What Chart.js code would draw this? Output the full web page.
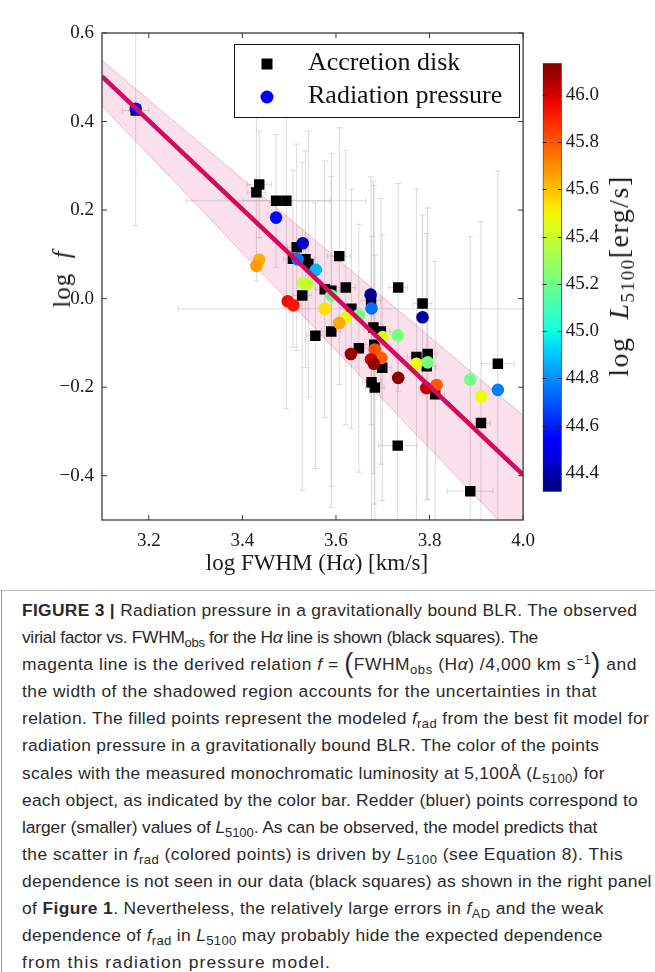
<!DOCTYPE html>
<html>
<head>
<meta charset="utf-8">
<script src="https://cdn.jsdelivr.net/npm/chart.js@4"></script>
<style>
  body { margin: 0; background: #fff; }
  #page { position: relative; width: 655px; height: 972px; overflow: hidden; }
  .lbl { position: absolute; font-family: "Liberation Serif", serif; color: #1a1a1a; white-space: nowrap; transform: translate(-50%, -50%); }
  .lbl sub { font-size: 0.68em; vertical-align: -0.3em; line-height: 0; }
  #caption { position: absolute; left: 1px; top: 590px; width: 654px; height: 382px;
    border-left: 1px solid #999; border-top: 1px solid #bbb; box-sizing: border-box;
    padding: 6px 0 0 20px; font-family: "Liberation Sans", Arial, sans-serif; font-size: 17.4px;
    line-height: 27.1px; color: #2a2a2a; }
  #caption div { white-space: nowrap; }
  #caption sub { font-size: 0.75em; vertical-align: -0.28em; line-height: 0; }
  #caption sup { font-size: 0.72em; vertical-align: 0.45em; line-height: 0; }
  .big { font-size: 1.55em; line-height: 0; vertical-align: -0.08em; font-weight: 300; }
</style>
</head>
<body>
<div id="page">
  <canvas id="main" width="545" height="590" style="position:absolute;left:0;top:0"></canvas>
  <canvas id="cbar" width="125" height="590" style="position:absolute;left:530px;top:0"></canvas>
  <div class="lbl" style="left:317px;top:563px;font-size:23px">log FWHM (H<i>α</i>) [km/s]</div>
  <div class="lbl" style="left:62px;top:279px;font-size:25px;letter-spacing:1px;transform:translate(-50%,-50%) rotate(-90deg)">log&nbsp;&nbsp;<i>f</i></div>
  <div class="lbl" style="left:619px;top:276px;font-size:28px;letter-spacing:1.5px;transform:translate(-50%,-50%) rotate(-90deg)">log&nbsp;&nbsp;<i>L</i><sub>5100</sub>[erg/s]</div>
  <div id="caption">
    <div data-r="636"><b>FIGURE 3 |</b> Radiation pressure in a gravitationally bound BLR. The observed</div>
    <div data-r="537">virial factor vs. FWHM<sub>obs</sub> for the H<i>α</i> line is shown (black squares). The</div>
    <div data-r="636">magenta line is the derived relation <i>f</i> = <span class="big">(</span>FWHM<sub>obs</sub> (H<i>α</i>) /4,000 km s<sup>−1</sup><span class="big">)</span> and</div>
    <div data-r="596">the width of the shadowed region accounts for the uncertainties in that</div>
    <div data-r="648">relation. The filled points represent the modeled <i>f</i><sub>rad</sub> from the best fit model for</div>
    <div data-r="598">radiation pressure in a gravitationally bound BLR. The color of the points</div>
    <div data-r="604">scales with the measured monochromatic luminosity at 5,100Å (<i>L</i><sub>5100</sub>) for</div>
    <div data-r="637">each object, as indicated by the color bar. Redder (bluer) points correspond to</div>
    <div data-r="596">larger (smaller) values of <i>L</i><sub>5100</sub>. As can be observed, the model predicts that</div>
    <div data-r="622">the scatter in <i>f</i><sub>rad</sub> (colored points) is driven by <i>L</i><sub>5100</sub> (see Equation 8). This</div>
    <div data-r="651">dependence is not seen in our data (black squares) as shown in the right panel</div>
    <div data-r="603">of <b>Figure 1</b>. Nevertheless, the relatively large errors in <i>f</i><sub>AD</sub> and the weak</div>
    <div data-r="602">dependence of <i>f</i><sub>rad</sub> in <i>L</i><sub>5100</sub> may probably hide the expected dependence</div>
    <div data-r="330">from this radiation pressure model.</div>
  </div>
</div>
<script>
// axis ticks
const xTicks = [3.2, 3.4, 3.6, 3.8, 4.0];
const yTicks = [-0.4, -0.2, 0.0, 0.2, 0.4, 0.6];
const cbTicks = [44.4, 44.6, 44.8, 45.0, 45.2, 45.4, 45.6, 45.8, 46.0];
const cbMin = 44.32, cbMax = 46.134;

// accretion disk (black squares), log FWHM and log f with errors
const adFwhm = [3.172, 3.436, 3.430, 3.472, 3.494, 3.516, 3.508, 3.535, 3.541, 3.607, 3.528, 3.576,
  3.590, 3.621, 3.556, 3.590, 3.633, 3.733, 3.785, 3.675, 3.680, 3.696, 3.649, 3.682, 3.699, 3.676,
  3.683, 3.772, 3.796, 3.794, 3.812, 3.946, 3.910, 3.732, 3.887];
const adF = [0.425, 0.258, 0.240, 0.221, 0.221, 0.116, 0.090, 0.089, 0.078, 0.096, 0.007, 0.021,
  0.018, 0.025, -0.084, -0.074, -0.023, 0.025, -0.011, -0.005, -0.065, -0.074, -0.112, -0.104, -0.156, -0.189,
  -0.201, -0.132, -0.125, -0.153, -0.216, -0.147, -0.281, -0.332, -0.435];
const adFwhmErr = [0.028, 0.026, 0.020, 0.192, 0.093, 0.020, 0.020, 0.020, 0.020, 0.025, 0.020, 0.020,
  0.020, 0.020, 0.020, 0.020, 0.370, 0.020, 0.020, 0.020, 0.020, 0.020, 0.020, 0.020, 0.020, 0.020,
  0.020, 0.020, 0.020, 0.020, 0.020, 0.035, 0.020, 0.041, 0.049];
const adFErrLo = [0.26, 0.12, 0.20, 0.15, 0.47, 0.233, 0.20, 0.245, 0.30, 0.29, 0.44, 0.29,
  0.49, 0.31, 0.30, 0.35, 0.27, 0.235, 0.20, 0.28, 0.33, 0.30, 0.28, 0.36, 0.30, 0.33,
  0.30, 0.38, 0.33, 0.30, 0.30, 0.435, 0.455, 0.20, 0.575];
const adFErrHi = [0.26, 0.12, 0.20, 0.15, 0.20, 0.233, 0.20, 0.245, 0.30, 0.29, 0.30, 0.29,
  0.31, 0.31, 0.30, 0.35, 0.27, 0.235, 0.20, 0.28, 0.33, 0.30, 0.28, 0.36, 0.30, 0.33,
  0.30, 0.38, 0.33, 0.30, 0.30, 0.435, 0.455, 0.20, 0.575];

// radiation pressure model (coloured circles) and log L5100
const rpFwhm = [3.172, 3.472, 3.529, 3.518, 3.557, 3.436, 3.430, 3.530, 3.539, 3.590, 3.497, 3.509,
  3.576, 3.621, 3.649, 3.607, 3.674, 3.676, 3.785, 3.732, 3.700, 3.632, 3.683, 3.697, 3.675, 3.681,
  3.733, 3.772, 3.796, 3.793, 3.815, 3.887, 3.910, 3.946];
const rpF = [0.429, 0.183, 0.125, 0.089, 0.065, 0.088, 0.074, 0.035, 0.033, 0.007, -0.006, -0.015,
  -0.023, -0.043, -0.037, -0.055, 0.009, -0.022, -0.042, -0.083, -0.087, -0.125, -0.115, -0.134, -0.137, -0.147,
  -0.179, -0.147, -0.144, -0.202, -0.195, -0.183, -0.221, -0.206];
const rpL = [44.54, 44.56, 44.43, 44.76, 44.87, 45.63, 45.67, 45.39, 45.39, 45.22, 45.95, 45.93,
  45.54, 45.46, 45.22, 45.65, 44.34, 44.74, 44.37, 45.22, 45.43, 46.10, 45.82, 45.79, 46.00, 46.10,
  46.12, 45.47, 45.22, 46.03, 45.80, 45.20, 45.47, 44.77];

// f = (FWHM / 4000 km/s)^-1 and its uncertainty band
const relFwhm = [3.1, 4.0];
const relF = [0.502, -0.398];
const bandHi = [0.538, -0.264];
const bandLo = [0.435, -0.559];

const serif = '"Liberation Serif", serif';

function interp(t, pts) {
  for (let i = 1; i < pts.length; i++) {
    if (t <= pts[i][0]) {
      const [x0, y0] = pts[i - 1], [x1, y1] = pts[i];
      return y0 + (y1 - y0) * (t - x0) / (x1 - x0);
    }
  }
  return pts[pts.length - 1][1];
}
// matplotlib "jet"
function jet(v) {
  const t = Math.min(1, Math.max(0, (v - cbMin) / (cbMax - cbMin)));
  const r = interp(t, [[0, 0], [0.35, 0], [0.66, 1], [0.89, 1], [1, 0.5]]);
  const g = interp(t, [[0, 0], [0.125, 0], [0.375, 1], [0.64, 1], [0.91, 0], [1, 0]]);
  const b = interp(t, [[0, 0.5], [0.11, 1], [0.34, 1], [0.65, 0], [1, 0]]);
  return `rgb(${Math.round(r * 255)},${Math.round(g * 255)},${Math.round(b * 255)})`;
}
const fmt = v => (v < 0 ? '−' : '') + Math.abs(v).toFixed(1);

// error bars under everything
const errorBars = {
  id: 'errorBars',
  beforeDatasetsDraw(chart) {
    const { ctx, chartArea: a, scales: { x, y } } = chart;
    ctx.save();
    ctx.beginPath();
    ctx.rect(a.left, a.top, a.right - a.left, a.bottom - a.top);
    ctx.clip();
    ctx.strokeStyle = 'rgba(175,175,175,0.45)';
    ctx.lineWidth = 1;
    adFwhm.forEach((fw, i) => {
      const px = x.getPixelForValue(fw), py = y.getPixelForValue(adF[i]);
      const x0 = x.getPixelForValue(fw - adFwhmErr[i]), x1 = x.getPixelForValue(fw + adFwhmErr[i]);
      const y0 = y.getPixelForValue(adF[i] - adFErrLo[i]), y1 = y.getPixelForValue(adF[i] + adFErrHi[i]);
      ctx.beginPath();
      ctx.moveTo(x0, py); ctx.lineTo(x1, py);
      ctx.moveTo(x0, py - 3); ctx.lineTo(x0, py + 3);
      ctx.moveTo(x1, py - 3); ctx.lineTo(x1, py + 3);
      ctx.moveTo(px, y0); ctx.lineTo(px, y1);
      ctx.moveTo(px - 3, y0); ctx.lineTo(px + 3, y0);
      ctx.moveTo(px - 3, y1); ctx.lineTo(px + 3, y1);
      ctx.stroke();
    });
    ctx.restore();
  }
};

// frame, inward ticks on all sides, legend box
const frameAndLegend = {
  id: 'frameAndLegend',
  afterDraw(chart) {
    const { ctx, chartArea: a, scales: { x, y } } = chart;
    ctx.save();
    ctx.strokeStyle = '#3a3a3a';
    ctx.lineWidth = 1.3;
    ctx.strokeRect(a.left, a.top, a.right - a.left, a.bottom - a.top);
    ctx.lineWidth = 1;
    ctx.beginPath();
    xTicks.forEach(v => {
      const px = x.getPixelForValue(v);
      ctx.moveTo(px, a.bottom); ctx.lineTo(px, a.bottom - 5);
      ctx.moveTo(px, a.top); ctx.lineTo(px, a.top + 5);
    });
    yTicks.forEach(v => {
      const py = y.getPixelForValue(v);
      ctx.moveTo(a.left, py); ctx.lineTo(a.left + 5, py);
      ctx.moveTo(a.right, py); ctx.lineTo(a.right - 5, py);
    });
    ctx.stroke();

    // legend
    const lx = 234.5, ly = 44.5, lw = 285, lh = 73;
    ctx.fillStyle = '#fff';
    ctx.fillRect(lx, ly, lw, lh);
    ctx.strokeStyle = '#111';
    ctx.strokeRect(lx, ly, lw, lh);
    ctx.fillStyle = '#000';
    ctx.fillRect(267 - 5.5, 64 - 5.5, 11, 11);
    ctx.fillStyle = jet(rpL[0]);
    ctx.beginPath();
    ctx.arc(267, 97, 6.5, 0, Math.PI * 2);
    ctx.fill();
    ctx.fillStyle = '#111';
    ctx.font = '26px ' + serif;
    ctx.textBaseline = 'middle';
    ctx.fillText('Accretion disk', 308, 63);
    ctx.fillText('Radiation pressure', 308, 96);
    ctx.restore();
  }
};

new Chart(document.getElementById('main'), {
  type: 'scatter',
  data: {
    datasets: [
      {
        type: 'line', label: 'relation',
        data: relFwhm.map((v, i) => ({ x: v, y: relF[i] })),
        borderColor: '#d40a5e', borderWidth: 4.5, pointRadius: 0, fill: false
      },
      {
        label: 'Radiation pressure',
        data: rpFwhm.map((v, i) => ({ x: v, y: rpF[i] })),
        backgroundColor: rpL.map(jet), borderWidth: 0, pointRadius: 6.3, pointStyle: 'circle'
      },
      {
        label: 'Accretion disk',
        data: adFwhm.map((v, i) => ({ x: v, y: adF[i] })),
        backgroundColor: '#000', borderWidth: 0, pointRadius: 7.4, pointStyle: 'rect'
      },
      {
        type: 'line', label: 'band upper',
        data: relFwhm.map((v, i) => ({ x: v, y: bandHi[i] })),
        borderColor: 'rgba(225,90,140,0.35)', borderWidth: 1, pointRadius: 0,
        backgroundColor: 'rgba(222,60,125,0.16)', fill: '+1'
      },
      {
        type: 'line', label: 'band lower',
        data: relFwhm.map((v, i) => ({ x: v, y: bandLo[i] })),
        borderColor: 'rgba(225,90,140,0.35)', borderWidth: 1, pointRadius: 0, fill: false
      }
    ]
  },
  options: {
    responsive: false,
    animation: false,
    devicePixelRatio: 1,
    layout: { padding: { left: 0, right: 15, top: 33, bottom: 0 } },
    plugins: { legend: { display: false }, tooltip: { enabled: false } },
    scales: {
      x: {
        type: 'linear', min: 3.1, max: 4.0,
        afterBuildTicks: s => { s.ticks = xTicks.map(v => ({ value: v })); },
        afterFit: s => { s.height = 70; },
        grid: { display: false, drawTicks: false },
        border: { display: false },
        ticks: { padding: 10, color: '#1a1a1a', font: { family: serif, size: 19 }, callback: fmt, maxRotation: 0 }
      },
      y: {
        type: 'linear', min: -0.5, max: 0.6,
        afterBuildTicks: s => { s.ticks = yTicks.map(v => ({ value: v })); },
        afterFit: s => { s.width = 102; },
        grid: { display: false, drawTicks: false },
        border: { display: false },
        ticks: { padding: 8, color: '#1a1a1a', font: { family: serif, size: 19 }, callback: fmt }
      }
    }
  },
  plugins: [errorBars, frameAndLegend]
});

// colour bar drawn as a single floating bar with a jet gradient
const cbarTicks = {
  id: 'cbarTicks',
  afterDraw(chart) {
    const { ctx, chartArea: a, scales: { y } } = chart;
    ctx.save();
    ctx.strokeStyle = '#222';
    ctx.lineWidth = 1;
    ctx.beginPath();
    cbTicks.forEach(v => {
      const py = Math.round(y.getPixelForValue(v)) + 0.5;
      ctx.moveTo(a.right, py); ctx.lineTo(a.right - 4, py);
      ctx.moveTo(a.left, py); ctx.lineTo(a.left + 4, py);
    });
    ctx.stroke();
    ctx.restore();
  }
};

new Chart(document.getElementById('cbar'), {
  type: 'bar',
  data: {
    labels: ['L5100'],
    datasets: [{
      data: [[cbMin, cbMax]],
      backgroundColor: (c) => {
        const area = c.chart.chartArea;
        if (!area) return '#888';
        const g = c.chart.ctx.createLinearGradient(0, area.bottom, 0, area.top);
        for (let i = 0; i <= 40; i++) g.addColorStop(i / 40, jet(cbMin + (cbMax - cbMin) * i / 40));
        return g;
      },
      borderColor: '#222', borderWidth: 1, borderSkipped: false,
      barPercentage: 1, categoryPercentage: 1
    }]
  },
  options: {
    responsive: false,
    animation: false,
    devicePixelRatio: 1,
    layout: { padding: { left: 12.7, right: 0, top: 63.3, bottom: 98.3 } },
    plugins: { legend: { display: false }, tooltip: { enabled: false } },
    scales: {
      x: { display: false },
      y: {
        position: 'right', min: cbMin, max: cbMax,
        afterBuildTicks: s => { s.ticks = cbTicks.map(v => ({ value: v })); },
        afterFit: s => { s.width = 93.3; },
        grid: { display: false, drawTicks: false },
        border: { display: false },
        ticks: { padding: 4, color: '#1a1a1a', font: { family: serif, size: 19 }, callback: v => v.toFixed(1) }
      }
    }
  },
  plugins: [cbarTicks]
});

// spread each caption line evenly so it ends where it does in the printed figure
document.querySelectorAll('#caption div').forEach(line => {
  const range = document.createRange();
  range.selectNodeContents(line);
  const w = range.getBoundingClientRect().width;
  const target = +line.dataset.r - 21;
  const chars = line.textContent.length;
  const ls = Math.max(-0.6, Math.min(1.2, (target - w) / chars));
  line.style.letterSpacing = ls.toFixed(2) + 'px';
});
</script>
</body>
</html>
